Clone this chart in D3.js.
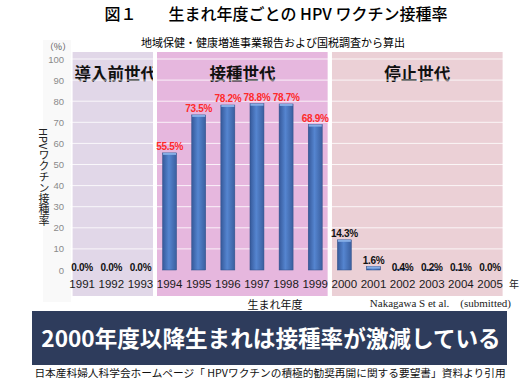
<!DOCTYPE html>
<html>
<head>
<meta charset="utf-8">
<script src="https://cdn.jsdelivr.net/npm/d3@7"></script>
<style>
body { margin:0; background:#fff; }
svg text { font-family: "Noto Sans CJK JP", "Liberation Sans", sans-serif; }
</style>
</head>
<body>
<svg width="523" height="383"></svg>
<script>
// data
var years = ["1991","1992","1993","1994","1995","1996","1997","1998","1999","2000","2001","2002","2003","2004","2005"]
var rates = [0.0, 0.0, 0.0, 55.5, 73.5, 78.2, 78.8, 78.7, 68.9, 14.3, 1.6, 0.4, 0.2, 0.1, 0.0]
var yTicks = [0,10,20,30,40,50,60,70,80,90,100]
var groupNames = ["導入前世代", "接種世代", "停止世代"]
var groupFirst = ["1991", "1994", "2000"]
var groupLast = ["1993", "1999", "2005"]
var groupFill = ["#e1d7e8", "#e6b7de", "#ebd0d6"]
var redYears = ["1994","1995","1996","1997","1998","1999"]

var svg = d3.select("svg")

var x = d3.scaleBand().domain(years).range([67.6, 504.6]).paddingInner(0.52).paddingOuter(0.26)
var y = d3.scaleLinear().domain([0, 100]).range([270, 59])
var step = x.step(), half = step * x.paddingInner() / 2

var defs = svg.append("defs")
var grad = defs.append("linearGradient").attr("id", "barg").attr("x1", 0).attr("x2", 1).attr("y1", 0).attr("y2", 0)
grad.append("stop").attr("offset", "0%").attr("stop-color", "#36599a")
grad.append("stop").attr("offset", "45%").attr("stop-color", "#5585d0")
grad.append("stop").attr("offset", "100%").attr("stop-color", "#3a5f9f")

// title
svg.append("text").attr("x", 276).attr("y", 20).attr("text-anchor", "middle")
	.style("font-size", "16px").style("font-weight", "500")
	.text("図１　　生まれ年度ごとの HPV ワクチン接種率")
svg.append("text").attr("x", 273).attr("y", 47).attr("text-anchor", "middle")
	.style("font-size", "11px").text("地域保健・健康増進事業報告および国税調査から算出")

// faint backdrop behind axis
svg.append("rect").attr("x", 43).attr("y", 40).attr("width", 28).attr("height", 262).attr("fill", "#f9f9f9")

// generation panels
groupNames.forEach(function(name, i){
	var x0 = x(groupFirst[i]) - half + 2
	var x1 = x(groupLast[i]) + x.bandwidth() + half - 2
	if(i == 0) x0 += 3
	svg.append("rect").attr("x", x0).attr("y", 52).attr("width", x1 - x0).attr("height", 244)
		.attr("fill", groupFill[i])
	var lx = i == 0 ? x0 + 2 : (x0 + x1) / 2
	svg.append("text").attr("x", lx).attr("y", 80)
		.attr("text-anchor", i == 0 ? "start" : "middle")
		.style("font-size", "16.5px").style("font-weight", "bold").attr("fill", "#111")
		.text(name)
})

// gridlines
svg.append("g").selectAll("line").data(yTicks.slice(1)).enter().append("line")
	.attr("x1", 70).attr("x2", 504)
	.attr("y1", function(d){ return y(d) }).attr("y2", function(d){ return y(d) })
	.attr("stroke", "#ffffff").attr("stroke-opacity", 0.8).attr("stroke-width", 1)

// gaps between panels stay white
groupFirst.slice(1).forEach(function(yr){
	svg.append("rect").attr("x", x(yr) - half - 2).attr("y", 50).attr("width", 4).attr("height", 248).attr("fill", "#fff")
})

// y axis labels
svg.append("g").selectAll("text").data(yTicks).enter().append("text")
	.attr("x", 64).attr("y", function(d){ return y(d) + 3.5 })
	.attr("text-anchor", "end").attr("fill", "#8a8a8a")
	.style("font-size", "9.5px").style("font-family", "Liberation Sans, sans-serif")
	.text(function(d){ return d })
svg.append("text").attr("x", 58).attr("y", 50).attr("text-anchor", "middle")
	.attr("fill", "#555").style("font-size", "9px").text("（%）")

svg.append("text").attr("x", 44).attr("y", 128)
	.style("writing-mode", "vertical-rl").style("font-size", "11px").attr("fill", "#222")
	.text("HPVワクチン接種率")

// bars
svg.append("g").selectAll("rect").data(years).enter().append("rect")
	.attr("x", function(d){ return x(d) })
	.attr("width", x.bandwidth())
	.attr("y", function(d, i){ return y(rates[i]) })
	.attr("height", function(d, i){ return y(0) - y(rates[i]) })
	.attr("fill", "url(#barg)")
	.attr("stroke", "#2f4f88").attr("stroke-width", 0.5)

// bar tops highlight
svg.append("g").selectAll("rect").data(years.filter(function(d, i){ return rates[i] > 1 })).enter().append("rect")
	.attr("x", function(d){ return x(d) + 0.5 })
	.attr("width", x.bandwidth() - 1)
	.attr("y", function(d){ return y(rates[years.indexOf(d)]) })
	.attr("height", 2)
	.attr("fill", "#86aee6")

// value labels
svg.append("g").selectAll("text").data(years).enter().append("text")
	.attr("x", function(d){ return x(d) + x.bandwidth() / 2 })
	.attr("y", function(d, i){ return rates[i] < 1 ? 271 : y(rates[i]) - 3 })
	.attr("text-anchor", "middle")
	.attr("fill", function(d){ return redYears.indexOf(d) >= 0 ? "#ff2a2a" : "#111" })
	.style("font-size", "10px").style("font-weight", "bold")
	.style("font-family", "Liberation Sans, sans-serif").style("letter-spacing", "-0.3px")
	.text(function(d, i){ return rates[i].toFixed(1) + "%" })

// year labels
svg.append("g").selectAll("text").data(years).enter().append("text")
	.attr("x", function(d){ return x(d) + x.bandwidth() / 2 })
	.attr("y", 288)
	.attr("text-anchor", "middle").attr("fill", "#1a1a1a")
	.style("font-size", "11.5px").style("font-family", "Liberation Sans, sans-serif")
	.text(function(d){ return d })
svg.append("text").attr("x", 514).attr("y", 288).attr("text-anchor", "middle")
	.style("font-size", "10px").attr("fill", "#222").text("年")

svg.append("text").attr("x", 275).attr("y", 309).attr("text-anchor", "middle")
	.style("font-size", "11px").attr("fill", "#111").text("生まれ年度")
svg.append("text").attr("x", 511).attr("y", 307).attr("text-anchor", "end")
	.style("font-size", "11px").style("font-family", "Liberation Serif, serif").attr("fill", "#222")
	.text("Nakagawa S et al.　(submitted)")

// banner
svg.append("rect").attr("x", 32).attr("y", 311).attr("width", 475).attr("height", 54).attr("fill", "#2e3c5c")
svg.append("text").attr("x", 271).attr("y", 347).attr("text-anchor", "middle")
	.attr("fill", "#fff").style("font-size", "22.6px").style("font-weight", "bold")
	.text("2000年度以降生まれは接種率が激減している")

svg.append("text").attr("x", 270).attr("y", 377).attr("text-anchor", "middle")
	.style("font-size", "10.7px").attr("fill", "#111")
	.text("日本産科婦人科学会ホームページ「 HPVワクチンの積極的勧奨再開に関する要望書」資料より引用")
</script>
</body>
</html>
